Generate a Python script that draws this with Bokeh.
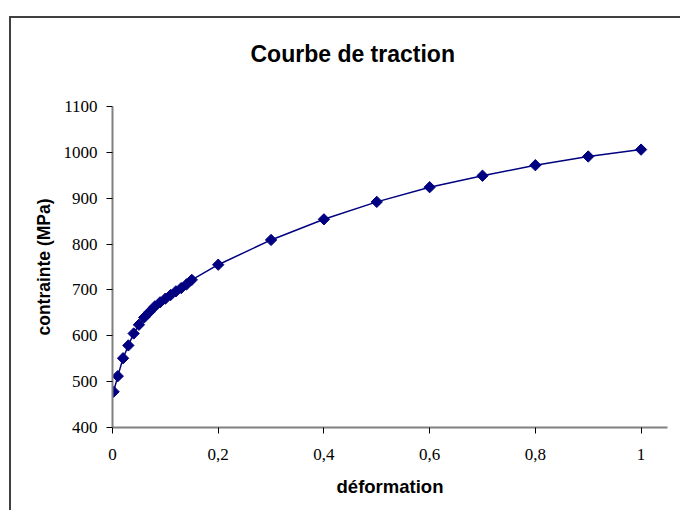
import numpy as np
from bokeh.plotting import figure
from bokeh.models import FixedTicker, CustomJSTickFormatter, Range1d
from bokeh.embed import file_html
from bokeh.resources import INLINE

# ---- data ----
deformation = [0.002, 0.01, 0.02, 0.03, 0.04, 0.05, 0.06, 0.07, 0.08, 0.09,
               0.10, 0.11, 0.12, 0.13, 0.14, 0.15, 0.2, 0.3, 0.4, 0.5,
               0.6, 0.7, 0.8, 0.9, 1.0]
contrainte = [478, 512, 551, 579, 605, 624, 640, 652, 664, 673,
              681, 689, 697, 704, 712, 722, 755, 809, 854, 892,
              924, 949, 972, 991, 1006]
x_ticks = [0, 0.2, 0.4, 0.6, 0.8, 1.0]
y_ticks = [400, 500, 600, 700, 800, 900, 1000, 1100]
title_text = "Courbe de traction"
x_label_text = "déformation"
y_label_text = "contrainte (MPa)"

NAVY = "#000080"

p = figure(width=680, height=510, output_backend="svg", toolbar_location=None,
           x_range=Range1d(0, 1.05), y_range=Range1d(400, 1100),
           min_border_left=112, min_border_right=13,
           min_border_top=106, min_border_bottom=83)
p.background_fill_color = "white"
p.border_fill_color = "white"
p.border_fill_alpha = 0
p.outline_line_color = None
p.grid.visible = False

# chart-area border (top and left edges, the rest is cut by the window)
p.styles = {
    "background": ("linear-gradient(#404040,#404040) 9px 16px / 2px 600px no-repeat, "
                   "linear-gradient(#404040,#404040) 9px 16px / 700px 2px no-repeat, white"),
}

p.title.text = title_text
p.title.text_font = "Liberation Sans"
p.title.text_font_style = "bold"
p.title.text_font_size = "23px"
p.title.text_color = "#000000"
p.title.align = "left"
p.title.vertical_align = "top"
p.title.offset = 138
p.title.standoff = 76

for ax in (p.xaxis[0], p.yaxis[0]):
    ax.axis_line_color = "#808080"
    ax.axis_line_width = 2
    ax.major_tick_line_color = "#000000"
    ax.major_tick_line_width = 1
    ax.major_tick_out = 6
    ax.major_tick_in = 0
    ax.minor_tick_line_color = None
    ax.major_label_text_font = "Liberation Serif"
    ax.major_label_text_font_size = "17px"
    ax.major_label_text_color = "#000000"
    ax.axis_label_text_font = "Liberation Sans"
    ax.axis_label_text_font_style = "bold"
    ax.axis_label_text_color = "#000000"

p.xaxis[0].axis_label = x_label_text
p.yaxis[0].axis_label = y_label_text
p.xaxis[0].axis_label_text_font_size = "18.5px"
p.yaxis[0].axis_label_text_font_size = "17.5px"
p.xaxis[0].axis_label_standoff = 13
p.yaxis[0].axis_label_standoff = 7

p.xaxis[0].ticker = FixedTicker(ticks=x_ticks)
p.yaxis[0].ticker = FixedTicker(ticks=y_ticks)
p.xaxis[0].major_label_standoff = 15
p.yaxis[0].major_label_standoff = 9
p.xaxis[0].formatter = CustomJSTickFormatter(
    code="return (Math.round(tick*10)/10).toString().replace('.', ',');")

p.line(deformation, contrainte, line_color=NAVY, line_width=1.5)
p.scatter(deformation, contrainte, marker="square", size=8, angle=np.pi / 4,
          fill_color=NAVY, line_color=NAVY)

open("out.html", "w").write(file_html(p, INLINE))
